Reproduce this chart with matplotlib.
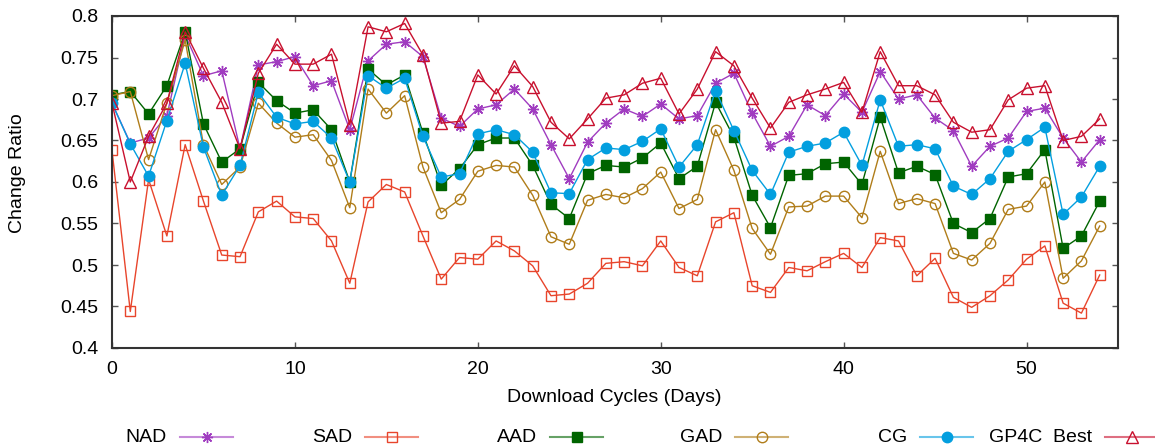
import numpy as np
import matplotlib
matplotlib.use("Agg")
import matplotlib.pyplot as plt
from matplotlib.lines import Line2D
from matplotlib.ticker import FormatStrFormatter, MultipleLocator

plt.rcParams['font.family'] = ['Liberation Sans', 'DejaVu Sans']

days = np.arange(55)

nad = [0.695, 0.647, 0.653, 0.680, 0.777, 0.728, 0.734, 0.640, 0.741, 0.745,
       0.751, 0.716, 0.722, 0.663, 0.746, 0.766, 0.769, 0.751, 0.677, 0.667,
       0.688, 0.693, 0.712, 0.688, 0.645, 0.604, 0.648, 0.671, 0.688, 0.679,
       0.694, 0.676, 0.680, 0.719, 0.731, 0.683, 0.643, 0.655, 0.693, 0.680,
       0.706, 0.684, 0.733, 0.700, 0.705, 0.677, 0.662, 0.619, 0.643, 0.653,
       0.685, 0.689, 0.653, 0.624, 0.651]
sad = [0.638, 0.444, 0.603, 0.535, 0.645, 0.577, 0.512, 0.510, 0.564, 0.577,
       0.558, 0.556, 0.529, 0.478, 0.576, 0.597, 0.588, 0.535, 0.483, 0.509,
       0.507, 0.529, 0.517, 0.499, 0.463, 0.465, 0.478, 0.502, 0.504, 0.499,
       0.529, 0.497, 0.487, 0.552, 0.563, 0.475, 0.467, 0.497, 0.493, 0.504,
       0.514, 0.497, 0.533, 0.529, 0.487, 0.508, 0.461, 0.449, 0.463, 0.482,
       0.507, 0.523, 0.454, 0.442, 0.488]
aad = [0.705, 0.709, 0.682, 0.716, 0.781, 0.670, 0.624, 0.640, 0.720, 0.698,
       0.683, 0.687, 0.663, 0.600, 0.736, 0.717, 0.729, 0.659, 0.596, 0.616,
       0.645, 0.653, 0.653, 0.620, 0.573, 0.556, 0.610, 0.620, 0.618, 0.629,
       0.647, 0.604, 0.619, 0.696, 0.654, 0.584, 0.545, 0.608, 0.610, 0.622,
       0.624, 0.597, 0.678, 0.611, 0.619, 0.609, 0.550, 0.539, 0.556, 0.606,
       0.610, 0.639, 0.520, 0.535, 0.577]
gad = [0.704, 0.709, 0.627, 0.695, 0.771, 0.645, 0.597, 0.618, 0.695, 0.671,
       0.654, 0.657, 0.626, 0.569, 0.712, 0.683, 0.704, 0.618, 0.563, 0.579,
       0.613, 0.620, 0.618, 0.584, 0.534, 0.525, 0.578, 0.585, 0.581, 0.592,
       0.612, 0.568, 0.579, 0.663, 0.614, 0.544, 0.513, 0.570, 0.571, 0.583,
       0.583, 0.557, 0.637, 0.574, 0.580, 0.574, 0.514, 0.506, 0.526, 0.567,
       0.571, 0.600, 0.484, 0.505, 0.547]
cg = [0.695, 0.646, 0.607, 0.674, 0.743, 0.642, 0.584, 0.620, 0.708, 0.678,
      0.670, 0.673, 0.653, 0.600, 0.728, 0.713, 0.725, 0.655, 0.606, 0.610,
      0.658, 0.663, 0.657, 0.636, 0.587, 0.586, 0.627, 0.641, 0.639, 0.649,
      0.664, 0.618, 0.645, 0.710, 0.662, 0.614, 0.585, 0.636, 0.643, 0.647,
      0.660, 0.620, 0.699, 0.643, 0.645, 0.640, 0.595, 0.585, 0.604, 0.637,
      0.651, 0.666, 0.561, 0.582, 0.619]
best = [0.695, 0.600, 0.655, 0.695, 0.781, 0.737, 0.696, 0.640, 0.731, 0.766,
        0.742, 0.742, 0.754, 0.669, 0.787, 0.781, 0.791, 0.753, 0.671, 0.673,
        0.729, 0.706, 0.740, 0.715, 0.672, 0.652, 0.676, 0.701, 0.705, 0.719,
        0.725, 0.682, 0.712, 0.757, 0.740, 0.701, 0.665, 0.696, 0.705, 0.712,
        0.720, 0.684, 0.757, 0.716, 0.716, 0.705, 0.672, 0.660, 0.663, 0.699,
        0.713, 0.716, 0.650, 0.655, 0.676]

labels = ["NAD", "SAD", "AAD", "GAD", "CG", "GP4C  Best"]

# colour, marker, marker size, filled?
styles = [
    ("#a03cc0", (8, 2, 0), 8, False),
    ("#e8452c", "s", 7.5, False),
    ("#006400", "s", 7.5, True),
    ("#b07d1a", "o", 7.5, False),
    ("#039fdf", "o", 7.5, True),
    ("#c8102e", "^", 8.5, False),
]
series = [nad, sad, aad, gad, cg, best]

W, H = 1155, 446
fig = plt.figure(figsize=(W/100, H/100), dpi=100)
ax = fig.add_axes([112/W, 1 - 348/H, (1118-112)/W, (348-16)/H])

for vals, (col, mk, ms, filled) in zip(series, styles):
    ax.plot(days, vals, color=col, lw=1.0, marker=mk, ms=ms,
            mfc=col if filled else "none", mec=col, mew=1.0)

ax.set_xlim(0, 55)
ax.set_ylim(0.4, 0.8)
ax.xaxis.set_major_locator(MultipleLocator(10))
ax.yaxis.set_major_locator(MultipleLocator(0.05))
ax.yaxis.set_major_formatter(FormatStrFormatter('%g'))
ax.tick_params(direction='in', top=True, right=True, length=4, width=1,
               labelsize=14, color='#555555')
ax.tick_params(axis='y', pad=10)
ax.tick_params(axis='x', pad=9)
for s in ax.spines.values():
    s.set_linewidth(1.5)
    s.set_color('#333333')

fig.text(614/W, 1 - 398/H, "Download Cycles (Days)", ha='center', va='center',
         fontsize=14)
fig.text(18/W, 1 - 173/H, "Change Ratio", ha='center', va='center',
         rotation=90, fontsize=14)

# gnuplot-style legend: label then line sample, fixed spacing
ly = 1 - 437/H
for k, (lab, (col, mk, ms, filled)) in enumerate(zip(labels, styles)):
    x0 = 180 + 185*k
    fig.text((x0 - 13)/W, 1 - 438/H, lab, ha='right', va='center', fontsize=14)
    fig.add_artist(Line2D([x0/W, (x0 + 53)/W], [ly, ly],
                          transform=fig.transFigure, color=col, lw=1.5,
                          alpha=0.6))
    fig.add_artist(Line2D([(x0 + 26.5)/W], [ly], transform=fig.transFigure,
                          color=col, marker=mk, ms=ms,
                          mfc=col if filled else "none", mec=col, mew=1.0))

fig.savefig("out.png", dpi=100)
